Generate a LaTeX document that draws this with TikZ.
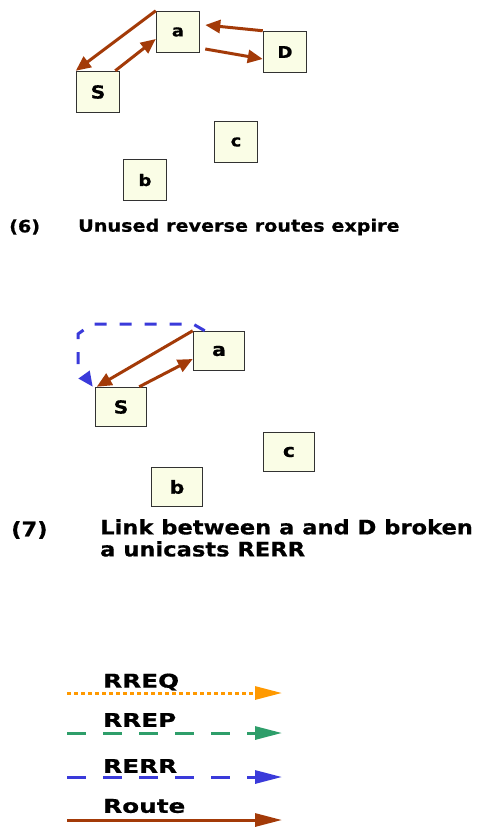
\documentclass[tikz,border=0pt]{standalone}
\usepackage{fontspec}
\setmainfont{DejaVu Sans}[FakeStretch=1.13,BoldFeatures={FakeBold=0.6}]
\newfontfamily\legendfont{DejaVu Sans}[FakeStretch=1.3,BoldFeatures={FakeBold=0.6}]
\usetikzlibrary{arrows.meta}
\definecolor{route}{RGB}{163,58,8}
\definecolor{rerr}{RGB}{58,58,218}
\definecolor{rrep}{RGB}{46,158,106}
\definecolor{rreq}{RGB}{255,153,0}
\definecolor{boxfill}{RGB}{250,253,230}
\definecolor{boxline}{RGB}{50,50,50}
\tikzset{
  nodebox/.style={draw=boxline,line width=1.5pt,fill=boxfill,inner sep=0pt,font=\bfseries\fontsize{16}{16}\selectfont},
  smallbox/.style={nodebox,minimum width=43pt,minimum height=41pt},
  bigbox/.style={nodebox,minimum width=51pt,minimum height=39pt,font=\bfseries\fontsize{18}{18}\selectfont},
  routearrow/.style={draw=route,line width=3pt,-{Triangle[length=15pt,width=13pt]}},
  rerrarrow/.style={draw=rerr,line width=3pt,dash pattern=on 12pt off 13pt,-{Triangle[length=15pt,width=13pt]}},
  caption/.style={anchor=west,inner sep=0pt,font=\bfseries\fontsize{17}{21}\selectfont},
  legendlabel/.style={anchor=west,inner sep=0pt,font=\legendfont\bfseries\fontsize{19}{19}\selectfont},
}
\begin{document}
\begin{tikzpicture}[x=1pt,y=-1pt]
\useasboundingbox (0,0) rectangle (480,827);
% ---- panel (6)
\node[smallbox] (a6) at (178,32) {a};
\node[smallbox] (D6) at (285,52) {D};
\node[smallbox,font=\bfseries\fontsize{18}{18}\selectfont] (S6) at (98,92) {S};
\node[smallbox] (c6) at (236,142) {c};
\node[smallbox] (b6) at (145,180) {b};
\draw[routearrow] (a6.north west) -- (S6.north west);
\draw[routearrow] ([xshift=-5pt]S6.north east) -- ([yshift=-7pt]a6.west);
\draw[routearrow] (D6.north west) -- ([xshift=5pt,yshift=7pt]a6.east);
\draw[routearrow] ([xshift=5pt,yshift=-17pt]a6.east) -- ([yshift=-7pt]D6.west);
\node[caption] (n6) at (9,227) {(6)};
\node[caption] (t6) at (78,227) {Unused reverse routes expire};
% ---- panel (7)
\node[bigbox] (a7) at (219,351) {a};
\node[bigbox] (S7) at (121,407) {S};
\node[bigbox] (c7) at (289,452) {c};
\node[bigbox] (b7) at (177,487) {b};
\draw[routearrow] (a7.north west) -- ([xshift=2pt]S7.north west);
\draw[routearrow] ([xshift=-8pt]S7.north east) -- ([yshift=-8pt]a7.west);
\coordinate (r1) at (193,324);
\coordinate (r2) at (92,324);
\coordinate (r3) at (78,334);
\coordinate (r4) at (78,366);
\draw[rerrarrow] ([xshift=12pt]a7.north west) -- (r1) -- (r2) -- (r3) -- (r4) -- ([xshift=-2pt]S7.north west);
\node[caption,font=\bfseries\fontsize{20}{22}\selectfont] (n7) at (11,530) {(7)};
\node[caption,font=\bfseries\fontsize{20}{22}\selectfont,align=left,anchor=north west] (t7) at (100,519) {Link between a and D broken\\a unicasts RERR};
% ---- legend
\coordinate (l1s) at (67,693);
\coordinate (l1e) at (282,693);
\coordinate (l2s) at (67,733);
\coordinate (l2e) at (282,733);
\coordinate (l3s) at (67,777);
\coordinate (l3e) at (282,777);
\coordinate (l4s) at (67,820);
\coordinate (l4e) at (282,820);
\draw[draw=rreq,line width=3pt,dash pattern=on 4pt off 3pt,-{Triangle[length=27pt,width=13pt,fill=rreq]}] (l1s) -- (l1e);
\draw[draw=rrep,line width=3pt,dash pattern=on 19pt off 17pt,-{Triangle[length=27pt,width=13pt,fill=rrep]}] (l2s) -- (l2e);
\draw[draw=rerr,line width=3pt,dash pattern=on 19pt off 17pt,-{Triangle[length=27pt,width=13pt,fill=rerr]}] (l3s) -- (l3e);
\draw[draw=route,line width=3pt,-{Triangle[length=27pt,width=13pt,fill=route]}] (l4s) -- (l4e);
\node[legendlabel] (lab1) at (103,682) {RREQ};
\node[legendlabel] (lab2) at (103,720) {RREP};
\node[legendlabel] (lab3) at (103,766) {RERR};
\node[legendlabel] (lab4) at (103,806) {Route};
\end{tikzpicture}
\end{document}
